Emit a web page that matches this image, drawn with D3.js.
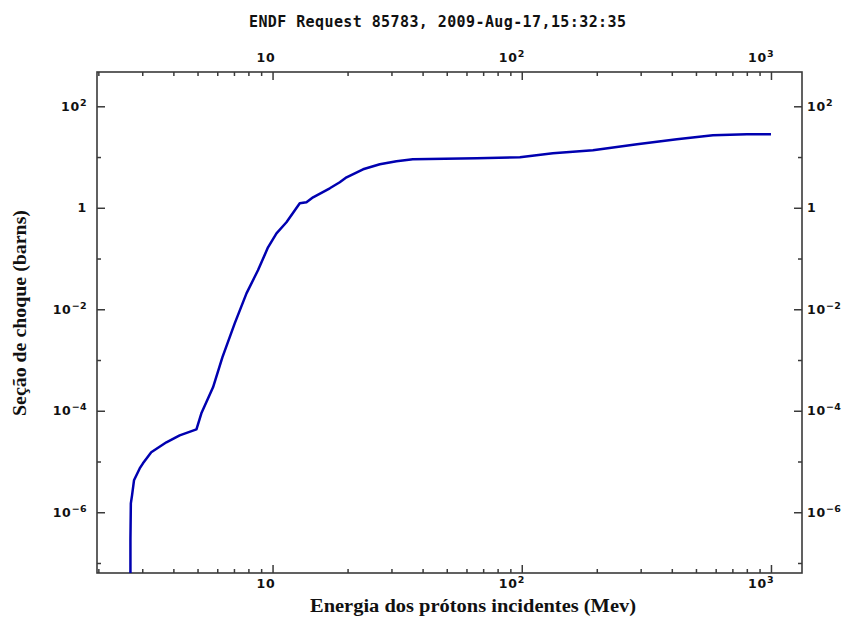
<!DOCTYPE html>
<html><head><meta charset="utf-8">
<script src="https://cdn.jsdelivr.net/npm/d3@7"></script>
<style>body{margin:0;background:#fff}</style>
</head><body>
<svg id="c" width="849" height="619" xmlns="http://www.w3.org/2000/svg"></svg>
<script>
const title = "ENDF Request 85783, 2009-Aug-17,15:32:35";
const xLabel = "Energia dos prótons incidentes (Mev)";
const yLabel = "Seção de choque (barns)";

// Cross section data (MeV, barns)
const energy = [2.69, 2.69, 2.70, 2.73, 2.78, 2.93, 3.02, 3.26, 3.75, 4.24, 4.95,
  5.18, 5.77, 6.29, 7.05, 7.86, 8.74, 9.59, 10.37, 11.37, 12.86, 13.68, 14.54,
  16.97, 18.61, 19.81, 23.08, 26.94, 31.43, 36.55, 66.0, 98.3, 133.3, 193, 290,
  419, 585, 801, 1000];
const sigma = [5e-8, 2.9e-7, 1.5e-6, 2.15e-6, 4.26e-6, 7.3e-6, 9.2e-6, 1.52e-5, 2.39e-5, 3.28e-5, 4.3e-5,
  8.9e-5, 2.9e-4, 1.13e-3, 5.28e-3, 0.0206, 0.0586, 0.166, 0.314, 0.518, 1.225, 1.28, 1.61,
  2.42, 3.18, 3.99, 5.73, 7.19, 8.24, 9.03, 9.45, 9.88, 11.85, 13.6, 17.8,
  22.4, 26.8, 28.1, 28.1];

const xMajor = [10, 100, 1000];
const xTickBase = ["10", "10", "10"];
const xTickExp = ["", "2", "3"];
const xMinor = [2, 3, 4, 5, 6, 7, 8, 9, 20, 30, 40, 50, 60, 70, 80, 90, 200, 300, 400, 500, 600, 700, 800, 900];
const yMajor = [100, 1, 1e-2, 1e-4, 1e-6];
const yTickBase = ["10", "1", "10", "10", "10"];
const yTickExp = ["2", "", "\u22122", "\u22124", "\u22126"];
const yMinor = [10, 0.1, 1e-3, 1e-5, 1e-7];

const L = 97, R = 802, T = 72, B = 573;
const svg = d3.select("#c");
const x = d3.scaleLog().domain([1.975, 1332]).range([L, R]);
const y = d3.scaleLog().domain([6.35e-8, 474]).range([B, T]);

const axisColor = "#3a3a3a";

// Title
svg.append("text").attr("x", 437.5).attr("y", 27).attr("text-anchor", "middle")
  .attr("font-family", "'DejaVu Sans Mono', 'Liberation Mono', monospace")
  .attr("font-weight", "bold").attr("font-size", 15).attr("fill", "#111")
  .attr("textLength", 377).attr("lengthAdjust", "spacing")
  .text(title);

// ticks via d3 axes
function styleAxis(g) {
  g.select(".domain").remove();
  g.selectAll("line").attr("stroke", axisColor).attr("stroke-width", 1.5);
  g.selectAll("text").remove();
}
svg.append("g").attr("transform", `translate(0,${B})`)
  .call(d3.axisBottom(x).tickValues(xMajor).tickSize(-8).tickSizeOuter(0).tickFormat("")).call(styleAxis);
svg.append("g").attr("transform", `translate(0,${B})`)
  .call(d3.axisBottom(x).tickValues(xMinor).tickSize(-4).tickSizeOuter(0).tickFormat("")).call(styleAxis);
svg.append("g").attr("transform", `translate(0,${T})`)
  .call(d3.axisTop(x).tickValues(xMajor).tickSize(-8).tickSizeOuter(0).tickFormat("")).call(styleAxis);
svg.append("g").attr("transform", `translate(0,${T})`)
  .call(d3.axisTop(x).tickValues(xMinor).tickSize(-4).tickSizeOuter(0).tickFormat("")).call(styleAxis);
svg.append("g").attr("transform", `translate(${L},0)`)
  .call(d3.axisLeft(y).tickValues(yMajor).tickSize(-8).tickSizeOuter(0).tickFormat("")).call(styleAxis);
svg.append("g").attr("transform", `translate(${L},0)`)
  .call(d3.axisLeft(y).tickValues(yMinor).tickSize(-4).tickSizeOuter(0).tickFormat("")).call(styleAxis);
svg.append("g").attr("transform", `translate(${R},0)`)
  .call(d3.axisRight(y).tickValues(yMajor).tickSize(-8).tickSizeOuter(0).tickFormat("")).call(styleAxis);
svg.append("g").attr("transform", `translate(${R},0)`)
  .call(d3.axisRight(y).tickValues(yMinor).tickSize(-4).tickSizeOuter(0).tickFormat("")).call(styleAxis);

// Frame
svg.append("rect").attr("x", L).attr("y", T).attr("width", R - L).attr("height", B - T)
  .attr("fill", "none").attr("stroke", axisColor).attr("stroke-width", 1.6);

// Tick labels
const tickFont = "'DejaVu Sans', Verdana, sans-serif";
function label(g, px, py, anchor, base, exp) {
  const t = g.append("text").attr("x", px).attr("y", py).attr("text-anchor", anchor)
    .attr("font-family", tickFont).attr("font-weight", "bold").attr("font-size", 12.5)
    .attr("fill", "#111").attr("letter-spacing", 0.8);
  t.append("tspan").text(base);
  if (exp) t.append("tspan").attr("dy", -5).attr("font-size", 9.5).attr("letter-spacing", 0.4).text(exp);
}
const lg = svg.append("g");
xMajor.forEach((v, i) => {
  label(lg, x(v) + 3, 588, "end", xTickBase[i], xTickExp[i]);
  label(lg, x(v) + 3, 62, "end", xTickBase[i], xTickExp[i]);
});
yMajor.forEach((v, i) => {
  label(lg, 87, y(v) + 4.5, "end", yTickBase[i], yTickExp[i]);
  label(lg, 807, y(v) + 4.5, "start", yTickBase[i], yTickExp[i]);
});

// Axis titles
svg.append("text").attr("x", 473).attr("y", 612).attr("text-anchor", "middle")
  .attr("font-family", "'Liberation Serif', 'Times New Roman', serif").attr("font-weight", "bold")
  .attr("font-size", 18).attr("fill", "#111")
  .attr("textLength", 326).attr("lengthAdjust", "spacingAndGlyphs")
  .text(xLabel);
svg.append("text").attr("transform", "translate(26,313) rotate(-90)").attr("text-anchor", "middle")
  .attr("font-family", "'Liberation Serif', 'Times New Roman', serif").attr("font-weight", "bold")
  .attr("font-size", 18).attr("fill", "#111")
  .attr("textLength", 206).attr("lengthAdjust", "spacingAndGlyphs")
  .text(yLabel);

// Curve
svg.append("clipPath").attr("id", "clip").append("rect")
  .attr("x", L).attr("y", T).attr("width", R - L).attr("height", B - T);
const pts = energy.map((e, i) => [e, sigma[i]]);
svg.append("path").datum(pts).attr("clip-path", "url(#clip)")
  .attr("fill", "none").attr("stroke", "#0000b0").attr("stroke-width", 2.5)
  .attr("stroke-linejoin", "round")
  .attr("d", d3.line().x(d => x(d[0])).y(d => y(d[1])));
</script>
</body></html>
